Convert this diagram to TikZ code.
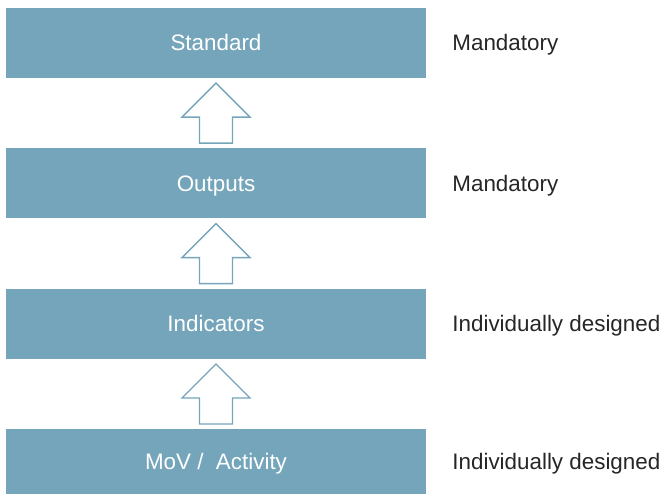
\documentclass[tikz,border=0pt]{standalone}
\usepackage{fontspec}
\setmainfont{Liberation Sans}
\usetikzlibrary{positioning}
\definecolor{levelblue}{HTML}{74A5BB}

\begin{document}
\begin{tikzpicture}[x=1pt, y=-1pt,
    level/.style={fill=levelblue, text=white, minimum width=420pt,
                  minimum height=70pt, inner sep=0pt,
                  text height=16pt, text depth=0pt,
                  font=\fontsize{22.4}{26}\selectfont},
    note/.style={anchor=west, inner sep=0pt, text=black!85,
                 text height=16pt, text depth=0pt,
                 font=\fontsize{22.4}{26}\selectfont},
    uparrow/.style={draw=levelblue, line width=1.4pt, fill=white}]
\useasboundingbox (0,0) rectangle (662,494);
% levels
\node[level] (std) at (216,43) {Standard};
\node[level, below=70pt of std] (out) {Outputs};
\node[level, below=70pt of out] (ind) {Indicators};
\node[level, below=70pt of ind, minimum height=65pt] (mov) {MoV / \ Activity};
% notes
\node[note, right=26pt of std] (nstd) {Mandatory};
\node[note, right=26pt of out] (nout) {Mandatory};
\node[note, right=26pt of ind] (nind) {Individually designed};
\node[note, right=26pt of mov] (nmov) {Individually designed};
% hollow arrows
\foreach \lo/\hi in {out/std, ind/out, mov/ind}
  \draw[uparrow] ([xshift=-16.5pt,yshift=5pt]\lo.north) -- ++(0,-26)
     -- ++(-17.5,0) -- ([yshift=-5pt]\hi.south) -- ++(34,34)
     -- ++(-17.5,0) -- ++(0,26) -- cycle;
\end{tikzpicture}
\end{document}
